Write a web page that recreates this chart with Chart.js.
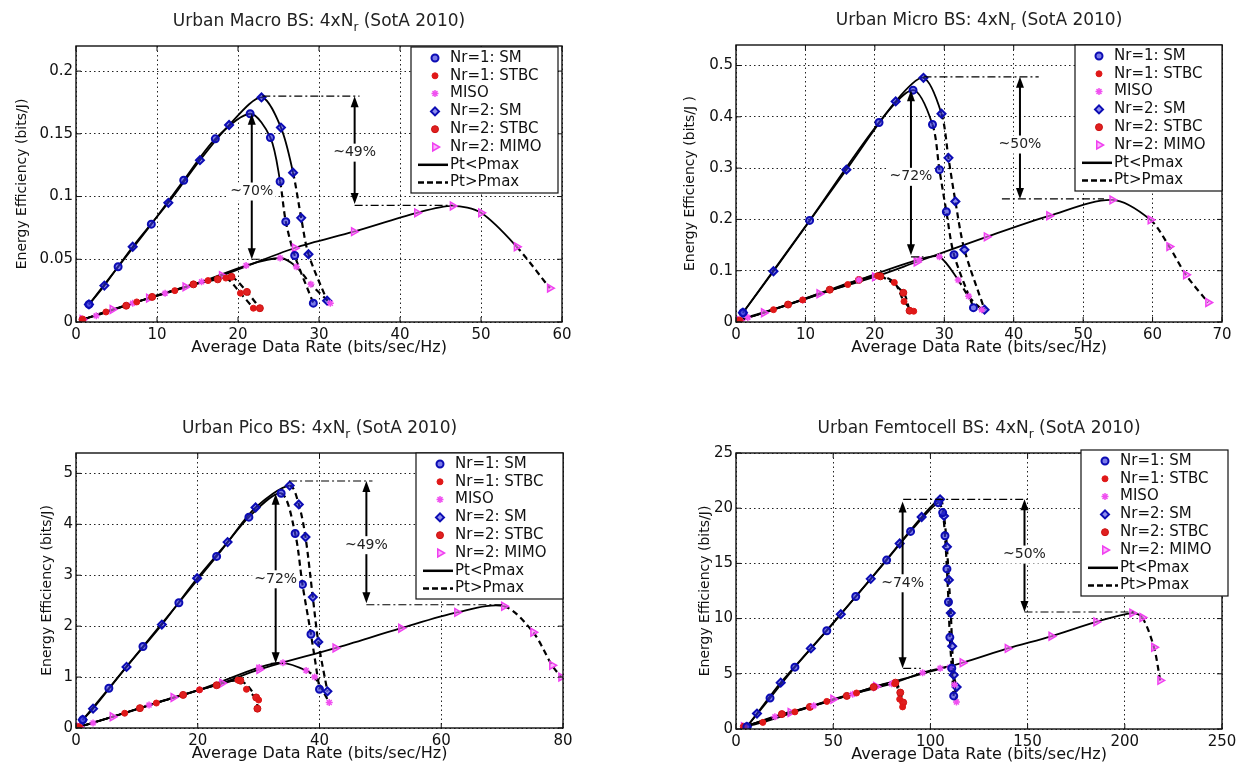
<!DOCTYPE html>
<html>
<head>
<meta charset="utf-8">
<title>Energy efficiency vs data rate</title>
<script src="https://cdn.jsdelivr.net/npm/chart.js@4.4.1/dist/chart.umd.min.js"></script>
<style>
  html, body { margin: 0; padding: 0; background: #fff; width: 1250px; height: 767px; overflow: hidden; }
  .panel { position: absolute; }
</style>
</head>
<body>
<script>
// ---- data: [rate, efficiency] pairs ----
// order inside each panel: Nr=1 SM, Nr=1 STBC, MISO, Nr=2 SM, Nr=2 STBC, Nr=2 MIMO
const seriesLabels = ['Nr=1: SM', 'Nr=1: STBC', 'MISO', 'Nr=2: SM', 'Nr=2: STBC', 'Nr=2: MIMO'];
const lineLabels = ['Pt<Pmax', 'Pt>Pmax'];

// Urban Macro
const macroXTicks = [0, 10, 20, 30, 40, 50, 60];
const macroYTicks = [0, 0.05, 0.1, 0.15, 0.2];
const macroSM1 = [[1.6,0.014],[5.2,0.044],[9.3,0.078],[13.3,0.113],[17.2,0.146],[21.5,0.166],[24.0,0.147],[25.2,0.112],[25.9,0.080],[27.0,0.053],[29.3,0.015]];
const macroST1 = [[0.8,0.002],[3.7,0.008],[7.5,0.016],[12.2,0.025],[16.3,0.033],[18.5,0.035],[20.3,0.023],[21.9,0.011]];
const macroMISO = [[0.8,0.002],[2.5,0.005],[7.0,0.015],[11.0,0.023],[15.5,0.032],[21.0,0.045],[25.2,0.051],[27.2,0.044],[29.0,0.030],[31.4,0.015]];
const macroSM2 = [[1.6,0.014],[3.5,0.029],[7.0,0.060],[11.4,0.095],[15.3,0.129],[18.9,0.157],[22.9,0.179],[25.3,0.155],[26.8,0.119],[27.8,0.083],[28.7,0.054],[31.0,0.017]];
const macroST2 = [[0.8,0.002],[6.2,0.013],[9.4,0.020],[14.5,0.030],[17.5,0.034],[19.2,0.036],[21.1,0.024],[22.7,0.011]];
const macroMIMO = [[0.8,0.002],[4.5,0.010],[9.0,0.019],[13.5,0.028],[18.0,0.037],[27.0,0.059],[34.3,0.072],[42.1,0.087],[46.5,0.0925],[50.0,0.087],[54.4,0.060],[58.5,0.027]];
const macroDashFrom = [7, 5, 7, 8, 5, 10];
const macroLevels = [[23, 35, 0.18], [34.4, 46.5, 0.093], [21.7, 25, 0.05]];
const macroArrows = [[34.4, 0.18, 0.094], [21.7, 0.166, 0.05]];
const macroNotes = [[34.4, 0.135, '~49%'], [21.7, 0.104, '~70%']];

// Urban Micro
const microXTicks = [0, 10, 20, 30, 40, 50, 60, 70];
const microYTicks = [0, 0.1, 0.2, 0.3, 0.4, 0.5];
const microSM1 = [[1.0,0.018],[10.6,0.198],[20.6,0.389],[25.5,0.452],[28.3,0.385],[29.3,0.297],[30.3,0.215],[31.4,0.131],[34.2,0.028]];
const microST1 = [[0.5,0.003],[5.4,0.024],[9.6,0.043],[16.1,0.073],[20.4,0.090],[22.8,0.077],[24.2,0.040],[25.6,0.021]];
const microMISO = [[0.5,0.003],[1.7,0.009],[9.6,0.043],[17.7,0.082],[26.4,0.122],[29.3,0.127],[32.0,0.082],[33.5,0.050],[35.4,0.024]];
const microSM2 = [[1.0,0.018],[5.4,0.099],[15.9,0.297],[23.0,0.430],[27.0,0.476],[29.6,0.406],[30.6,0.320],[31.6,0.235],[32.9,0.141],[35.8,0.024]];
const microST2 = [[0.5,0.003],[7.5,0.034],[13.5,0.063],[17.7,0.082],[20.8,0.089],[24.1,0.057],[25.0,0.022]];
const microMIMO = [[0.5,0.003],[4.0,0.018],[12.0,0.055],[20.0,0.088],[26.0,0.117],[36.1,0.166],[45.1,0.207],[54.2,0.238],[59.7,0.199],[62.4,0.147],[64.8,0.092],[68.0,0.038]];
const microDashFrom = [4, 4, 6, 5, 4, 8];
const microLevels = [[27, 43.6, 0.478], [38.3, 53, 0.24], [25.2, 27, 0.127]];
const microArrows = [[40.9, 0.478, 0.24], [25.2, 0.452, 0.13]];
const microNotes = [[40.9, 0.346, '~50%'], [25.2, 0.283, '~72%']];

// Urban Pico
const picoXTicks = [0, 20, 40, 60, 80];
const picoYTicks = [0, 1, 2, 3, 4, 5];
const picoSM1 = [[1.1,0.16],[5.4,0.78],[11.0,1.6],[16.9,2.46],[23.1,3.37],[28.4,4.14],[33.7,4.61],[36.0,3.82],[37.2,2.82],[38.6,1.84],[40.0,0.76]];
const picoST1 = [[0.5,0.02],[8.0,0.29],[13.2,0.49],[20.3,0.75],[26.6,0.94],[28.0,0.76],[30.0,0.55]];
const picoMISO = [[0.5,0.02],[2.8,0.10],[12.0,0.45],[20.3,0.75],[30.1,1.19],[34.0,1.28],[37.8,1.13],[39.2,1.0],[41.6,0.5]];
const picoSM2 = [[1.1,0.16],[2.8,0.38],[8.3,1.2],[14.1,2.03],[19.9,2.94],[24.9,3.65],[29.5,4.33],[35.1,4.76],[36.6,4.39],[37.7,3.75],[38.9,2.57],[39.8,1.69],[41.3,0.72]];
const picoST2 = [[0.5,0.02],[10.5,0.39],[17.6,0.65],[23.1,0.84],[27.0,0.93],[29.6,0.6],[29.8,0.38]];
const picoMIMO = [[0.5,0.02],[6.0,0.22],[16.0,0.6],[24.0,0.88],[30.1,1.15],[42.6,1.57],[53.4,1.96],[62.6,2.27],[70.3,2.39],[75.1,1.88],[78.2,1.23],[79.7,1.0]];
const picoDashFrom = [6, 4, 6, 7, 4, 8];
const picoLevels = [[35, 48.7, 4.85], [47.7, 70, 2.42], [32, 34, 1.27]];
const picoArrows = [[47.7, 4.85, 2.45], [32.8, 4.6, 1.27]];
const picoNotes = [[47.7, 3.59, '~49%'], [32.8, 2.92, '~72%']];

// Urban Femtocell
const femtoXTicks = [0, 50, 100, 150, 200, 250];
const femtoYTicks = [0, 5, 10, 15, 20, 25];
const femtoSM1 = [[5.6,0.2],[17.5,2.8],[30.3,5.6],[46.7,8.9],[61.6,12.0],[77.5,15.3],[89.8,17.9],[104,20.5],[106.3,19.6],[107.5,17.5],[108.5,14.5],[109.3,11.5],[110,8.3],[111,5.5],[112,3.0]];
const femtoST1 = [[4,0.2],[13.8,0.6],[30.3,1.55],[46.7,2.5],[62,3.26],[81.6,4.1],[84.2,2.7],[85.7,2.0]];
const femtoMISO = [[4,0.2],[20,1.1],[40,2.1],[60,3.15],[80,4.1],[96,5.1],[105,5.5],[110,5.6],[112.4,4.0],[113.4,2.45]];
const femtoSM2 = [[5.6,0.2],[10.8,1.4],[23,4.2],[38.5,7.3],[53.9,10.4],[69.3,13.6],[84.2,16.8],[95.5,19.2],[105,20.8],[107,19.3],[108.5,16.5],[109.5,13.5],[110.5,10.5],[111.2,7.5],[112,4.9],[113.5,3.8]];
const femtoST2 = [[4,0.2],[23.6,1.35],[38,2.0],[57,3.0],[70.8,3.8],[82,4.2],[84.5,3.3],[86,2.4]];
const femtoMIMO = [[4,0.2],[28,1.5],[50,2.7],[72,3.85],[116.5,6.0],[139.7,7.3],[162.2,8.4],[185.3,9.7],[203.8,10.5],[209,10.1],[215,7.4],[218.2,4.4]];
const femtoDashFrom = [7, 5, 7, 8, 5, 9];
const femtoLevels = [[86, 150, 20.8], [148.4, 205, 10.6], [86, 95, 5.5]];
const femtoArrows = [[148.4, 20.8, 10.6], [85.7, 20.6, 5.5]];
const femtoNotes = [[148.4, 15.8, '~50%'], [85.7, 13.2, '~74%']];

// ---- styling ----
const FONT = "'DejaVu Sans', 'Liberation Sans', sans-serif";
const SIDE = 76, TOP = 45, BOTTOM = 45;

const markerStyles = [
  { style: 'circle',   r: 3.5, color: '#0c0cb4', fill: 'rgba(50,50,220,0.65)', bw: 2 },
  { style: 'circle',   r: 3,   color: '#e01818', fill: '#e01818', bw: 1 },
  { style: 'star',     r: 3.5, color: '#f050f0', fill: '#f050f0', bw: 1.5 },
  { style: 'rectRot',  r: 4,   color: '#0c0cb4', fill: 'rgba(50,50,220,0.55)', bw: 2 },
  { style: 'circle',   r: 3.5, color: '#cc1010', fill: '#e02020', bw: 1 },
  { style: 'triangle', r: 4.5, rot: 90, color: '#f040f0', fill: 'rgba(250,130,250,0.6)', bw: 1.5 }
];

const panels = [
  { area: [76, 46, 562, 322], title: ['Urban Macro BS: 4xN', 'r', ' (SotA 2010)'], yLabel: 'Energy Efficiency (bits/J)', yLabelPad: 13.6,
    xMax: 60, yMax: 0.22, xTicks: macroXTicks, yTicks: macroYTicks,
    series: [macroSM1, macroST1, macroMISO, macroSM2, macroST2, macroMIMO], dashFrom: macroDashFrom,
    levels: macroLevels, arrows: macroArrows, notes: macroNotes, legendAt: [-4, 1] },
  { area: [736, 45, 1222, 322], title: ['Urban Micro BS: 4xN', 'r', ' (SotA 2010)'], yLabel: 'Energy Efficiency (bits/J )', yLabelPad: 21.6,
    xMax: 70, yMax: 0.54, xTicks: microXTicks, yTicks: microYTicks,
    series: [microSM1, microST1, microMISO, microSM2, microST2, microMIMO], dashFrom: microDashFrom,
    levels: microLevels, arrows: microArrows, notes: microNotes, legendAt: [0, 0] },
  { area: [76, 453, 563, 728], title: ['Urban Pico BS: 4xN', 'r', ' (SotA 2010)'], yLabel: 'Energy Efficiency (bits/J)', yLabelPad: 38.6,
    xMax: 80, yMax: 5.4, xTicks: picoXTicks, yTicks: picoYTicks,
    series: [picoSM1, picoST1, picoMISO, picoSM2, picoST2, picoMIMO], dashFrom: picoDashFrom,
    levels: picoLevels, arrows: picoArrows, notes: picoNotes, legendAt: [0, 0] },
  { area: [736, 453, 1222, 729], title: ['Urban Femtocell BS: 4xN', 'r', ' (SotA 2010)'], yLabel: 'Energy Efficiency (bits/J)', yLabelPad: 36.6,
    xMax: 250, yMax: 25, xTicks: femtoXTicks, yTicks: femtoYTicks,
    series: [femtoSM1, femtoST1, femtoMISO, femtoSM2, femtoST2, femtoMIMO], dashFrom: femtoDashFrom,
    levels: femtoLevels, arrows: femtoArrows, notes: femtoNotes, legendAt: [6, -3] }
];

function toXY(pts) {
  return pts.map(p => ({ x: p[0], y: p[1] }));
}

function drawMarker(ctx, s, x, y) {
  ctx.save();
  ctx.fillStyle = s.fill;
  ctx.strokeStyle = s.color;
  ctx.lineWidth = s.bw;
  if (Chart.helpers && Chart.helpers.drawPoint) {
    Chart.helpers.drawPoint(ctx, { pointStyle: s.style, rotation: s.rot || 0, radius: s.r, borderWidth: s.bw }, x, y);
  } else {
    ctx.beginPath();
    ctx.arc(x, y, s.r, 0, Math.PI * 2);
    ctx.fill();
    ctx.stroke();
  }
  ctx.restore();
}

function arrowHead(ctx, x, y, dir) {
  ctx.beginPath();
  ctx.moveTo(x, y);
  ctx.lineTo(x - 4, y - dir * 11);
  ctx.lineTo(x + 4, y - dir * 11);
  ctx.closePath();
  ctx.fill();
}

// MATLAB-like frame, title, annotations and boxed legend
function makeDecor(p) {
  return {
    id: 'decor',
    afterDatasetsDraw(chart) {
      const { ctx, scales: { x, y } } = chart;
      ctx.save();
      ctx.strokeStyle = '#000';
      ctx.fillStyle = '#000';
      ctx.lineWidth = 1.2;
      ctx.setLineDash([8, 3, 2, 3]);
      p.levels.forEach(([x1, x2, v]) => {
        ctx.beginPath();
        ctx.moveTo(x.getPixelForValue(x1), y.getPixelForValue(v));
        ctx.lineTo(x.getPixelForValue(x2), y.getPixelForValue(v));
        ctx.stroke();
      });
      ctx.setLineDash([]);
      ctx.lineWidth = 2;
      p.arrows.forEach(([xv, y1, y2]) => {
        const px = x.getPixelForValue(xv), t = y.getPixelForValue(y1), b = y.getPixelForValue(y2);
        ctx.beginPath();
        ctx.moveTo(px, t + 8);
        ctx.lineTo(px, b - 8);
        ctx.stroke();
        arrowHead(ctx, px, t, -1);
        arrowHead(ctx, px, b, 1);
      });
      ctx.font = '14px ' + FONT;
      ctx.textAlign = 'center';
      ctx.textBaseline = 'middle';
      p.notes.forEach(([xv, yv, txt]) => {
        const px = x.getPixelForValue(xv), py = y.getPixelForValue(yv);
        const w = ctx.measureText(txt).width;
        ctx.fillStyle = '#fff';
        ctx.fillRect(px - w / 2 - 2, py - 9, w + 4, 18);
        ctx.fillStyle = '#222';
        ctx.fillText(txt, px, py);
      });
      ctx.restore();
    },
    afterDraw(chart) {
      const { ctx, chartArea: a, scales: { x, y } } = chart;
      ctx.save();
      // frame and inward ticks
      ctx.strokeStyle = '#111';
      ctx.lineWidth = 1.4;
      ctx.strokeRect(a.left, a.top, a.right - a.left, a.bottom - a.top);
      ctx.lineWidth = 1;
      ctx.beginPath();
      p.xTicks.forEach(v => {
        const px = x.getPixelForValue(v);
        ctx.moveTo(px, a.bottom); ctx.lineTo(px, a.bottom - 5);
        ctx.moveTo(px, a.top); ctx.lineTo(px, a.top + 5);
      });
      p.yTicks.forEach(v => {
        const py = y.getPixelForValue(v);
        ctx.moveTo(a.left, py); ctx.lineTo(a.left + 5, py);
        ctx.moveTo(a.right, py); ctx.lineTo(a.right - 5, py);
      });
      ctx.stroke();

      // title with subscript r
      ctx.fillStyle = '#222';
      ctx.textBaseline = 'middle';
      ctx.textAlign = 'left';
      const big = '17px ' + FONT, small = '12px ' + FONT;
      ctx.font = big;
      const w0 = ctx.measureText(p.title[0]).width, w2 = ctx.measureText(p.title[2]).width;
      ctx.font = small;
      const w1 = ctx.measureText(p.title[1]).width;
      let tx = (a.left + a.right) / 2 - (w0 + w1 + w2) / 2;
      const ty = a.top - 24;
      ctx.font = big;
      ctx.fillText(p.title[0], tx, ty);
      ctx.font = small;
      ctx.fillText(p.title[1], tx + w0, ty + 6);
      ctx.font = big;
      ctx.fillText(p.title[2], tx + w0 + w1, ty);

      // legend box
      const LW = 147, LH = 146;
      const lx = a.right + p.legendAt[0] - LW, ly = a.top + p.legendAt[1];
      ctx.fillStyle = '#fff';
      ctx.fillRect(lx, ly, LW, LH);
      ctx.strokeStyle = '#111';
      ctx.lineWidth = 1.2;
      ctx.strokeRect(lx, ly, LW, LH);
      ctx.font = '15px ' + FONT;
      const labels = seriesLabels.concat(lineLabels);
      labels.forEach((t, i) => {
        const ry = ly + 11 + i * 17.8;
        if (i < markerStyles.length) {
          drawMarker(ctx, markerStyles[i], lx + 24, ry);
        } else {
          ctx.strokeStyle = '#000';
          ctx.lineWidth = 2.5;
          ctx.setLineDash(i === labels.length - 1 ? [6, 3] : []);
          ctx.beginPath();
          ctx.moveTo(lx + 7, ry);
          ctx.lineTo(lx + 37, ry);
          ctx.stroke();
          ctx.setLineDash([]);
        }
        ctx.fillStyle = '#111';
        ctx.fillText(t, lx + 39, ry);
      });
      ctx.restore();
    }
  };
}

function buildDatasets(p) {
  const lines = p.series.map((pts, i) => {
    const k = p.dashFrom[i];
    return {
      data: toXY(pts),
      showLine: true,
      pointRadius: 0,
      borderColor: '#000',
      borderWidth: 1.8,
      tension: 0.3,
      order: 2,
      segment: {
        borderDash: c => (c.p0DataIndex >= k ? [6, 4] : undefined),
        borderWidth: c => (c.p0DataIndex >= k ? 2.2 : undefined)
      }
    };
  });
  const marks = p.series.map((pts, i) => {
    const s = markerStyles[i];
    return {
      label: seriesLabels[i],
      data: toXY(pts),
      showLine: false,
      pointStyle: s.style,
      pointRadius: s.r,
      pointRotation: s.rot || 0,
      pointBorderColor: s.color,
      pointBackgroundColor: s.fill,
      pointBorderWidth: s.bw,
      order: 1
    };
  });
  return lines.concat(marks);
}

function createPanel(p) {
  const [L, T, R, B] = p.area;
  const div = document.createElement('div');
  div.className = 'panel';
  div.style.left = (L - SIDE) + 'px';
  div.style.top = (T - TOP) + 'px';
  div.style.width = (R - L + 2 * SIDE) + 'px';
  div.style.height = (B - T + TOP + BOTTOM) + 'px';
  div.innerHTML = '<canvas></canvas>';
  document.body.appendChild(div);

  return new Chart(div.querySelector('canvas'), {
    type: 'scatter',
    data: { datasets: buildDatasets(p) },
    plugins: [makeDecor(p)],
    options: {
      responsive: true,
      maintainAspectRatio: false,
      animation: false,
      events: [],
      layout: { padding: { left: 0, right: SIDE, top: TOP, bottom: 0 } },
      plugins: { legend: { display: false }, tooltip: { enabled: false }, title: { display: false } },
      scales: {
        x: {
          type: 'linear', min: 0, max: p.xMax,
          afterFit: s => { s.height = BOTTOM; },
          afterBuildTicks: s => { s.ticks = p.xTicks.map(v => ({ value: v })); },
          grid: { color: '#222', lineWidth: 1, drawTicks: false },
          border: { display: false, dash: [1.5, 3] },
          ticks: { color: '#111', padding: 4, maxRotation: 0, autoSkip: false, font: { family: FONT, size: 15 }, callback: v => String(v) },
          title: { display: true, text: 'Average Data Rate (bits/sec/Hz)', color: '#111', font: { family: FONT, size: 16 }, padding: { top: 0, bottom: 9.4 } }
        },
        y: {
          type: 'linear', min: 0, max: p.yMax,
          afterFit: s => { s.width = SIDE; },
          afterBuildTicks: s => { s.ticks = p.yTicks.map(v => ({ value: v })); },
          grid: { color: '#222', lineWidth: 1, drawTicks: false },
          border: { display: false, dash: [1.5, 3] },
          ticks: { color: '#111', padding: 3, autoSkip: false, font: { family: FONT, size: 15 }, callback: v => String(v) },
          title: { display: true, text: p.yLabel, color: '#111', font: { family: FONT, size: 14 }, padding: { top: p.yLabelPad, bottom: 0 } }
        }
      }
    }
  });
}

panels.forEach(createPanel);
</script>
</body>
</html>
